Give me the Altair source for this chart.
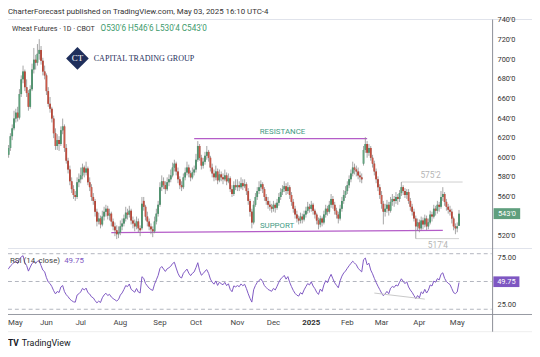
import altair as alt
import pandas as pd

# ---------------- data ----------------
MONTH_LABELS = ["May", "Jun", "Jul", "Aug", "Sep", "Oct", "Nov", "Dec", "2025", "Feb", "Mar", "Apr", "May"]
MONTH_INDEX = [0, 22, 41, 63, 85, 105, 128, 148, 169, 189, 208, 229, 250]

OPEN = [598,603,610,622,630,640,646,641,665,680,688,672,666,652,670,690,700,697,706,710,699,688,
        684,668,655,650,640,625,612,618,614,628,632,610,597,588,576,568,562,560,575,
        578,582,590,585,589,575,570,560,556,545,535,538,532,540,545,548,541,543,535,530,526,522,
        524,530,533,538,544,542,546,536,533,530,535,528,528,556,550,540,535,530,527,525,535,543,
        552,570,576,572,568,575,578,582,590,594,586,578,572,570,580,585,590,584,580,585,
        588,598,612,600,592,596,602,606,600,590,584,580,586,577,583,580,578,582,576,579,568,563,572,
        570,572,570,574,571,573,566,556,545,534,552,560,566,570,573,568,560,556,552,550,
        548,552,549,554,560,565,568,571,566,570,562,555,548,542,538,536,540,537,542,546,550,
        548,552,546,542,536,532,538,534,542,548,545,552,558,552,546,542,538,548,556,562,
        566,572,578,584,590,588,586,582,580,594,608,614,605,610,600,594,586,578,570,
        562,553,545,548,552,546,555,558,556,560,558,564,570,566,562,565,556,550,545,538,530,
        534,528,536,532,538,530,534,542,540,548,546,552,550,560,563,555,550,547,545,538,530,
        528,530.75]
HIGH = [606,613,625,634,648,650,652,670,684,694,690,680,669,674,696,712,705,716,721,714,702,694,
        686,672,662,652,643,630,624,622,632,640,634,614,600,592,580,572,566,580,584,
        590,594,592,596,591,580,573,564,558,548,544,541,546,550,552,551,548,545,538,534,531,530,
        536,538,542,550,548,551,548,540,537,540,538,531,560,560,552,545,538,533,530,540,548,556,
        575,582,580,576,580,583,588,595,598,596,590,581,576,584,590,596,593,587,590,592,
        604,617,614,603,600,606,612,608,602,594,588,592,589,588,586,584,588,585,584,581,572,576,578,
        578,576,580,578,578,575,569,558,548,556,564,570,576,577,575,570,563,560,556,553,
        556,554,558,564,569,572,576,574,575,572,565,558,551,546,541,544,543,546,550,555,553,
        556,554,548,544,539,541,540,546,552,551,556,563,561,555,549,545,552,560,567,571,
        576,582,588,596,594,592,590,586,584,612,621,617,614,612,603,597,589,581,573,
        566,556,553,557,555,560,563,561,565,563,567,575.25,572,569,568,568,559,553,548,541,538,
        537,540,539,542,541,538,546,545,552,551,556,555,566,570,565,558,553,551,548,540,533,
        534,546.75]
LOW = [596,600,607,618,628,636,637,639,662,676,668,662,648,650,668,686,690,694,700,695,684,680,
       664,652,646,636,620,608,608,607,612,624,606,594,584,572,564,558,556,558,570,
       574,578,580,582,572,566,556,552,540,530,532,528,530,536,540,537,536,530,526,520,517,518,
       521,526,530,535,537,539,532,528,525,527,524,520,526,546,536,530,526,522,519,523,532,540,
       550,566,568,563,566,571,575,580,586,582,574,568,566,568,577,582,580,576,578,582,
       585,596,597,588,589,593,598,596,586,580,576,577,573,575,576,573,576,572,574,565,560,561,567,
       566,566,568,567,569,562,552,540,528,532,550,557,563,566,564,556,552,548,546,544,
       545,544,547,551,557,562,565,562,563,558,551,544,538,534,532,533,533,535,539,543,544,
       545,542,538,532,527,529,530,532,539,541,543,549,548,542,538,533,536,545,553,559,
       563,569,575,581,583,581,578,575,574,592,605,600,602,597,590,582,574,566,558,
       548,532,540,544,541,544,551,550,553,552,555,561,562,559,558,553,546,541,535,517.5,526,
       524,526,527,529,526,527,532,535,538,541,543,545,548,556,551,546,543,541,533,526,522,
       524,530.5]
CLOSE = [603,610,622,630,640,646,641,665,680,688,672,666,652,670,690,700,697,706,710,699,688,684,
         668,655,650,640,625,612,618,614,628,632,610,597,588,576,568,562,560,575,578,
         582,590,585,589,575,570,560,556,545,535,538,532,540,545,548,541,543,535,530,526,522,524,
         530,533,538,544,542,546,536,533,530,535,528,526,553,550,540,535,530,527,525,535,543,552,
         570,576,572,568,575,578,582,590,594,586,578,572,570,580,585,590,584,580,585,588,
         598,612,600,592,596,602,606,600,590,584,580,586,577,583,580,578,582,576,579,568,563,572,570,
         572,570,574,571,573,566,556,545,534,552,560,566,570,573,568,560,556,552,550,548,
         552,549,554,560,565,568,571,566,570,562,555,548,542,538,536,540,537,542,546,550,548,
         552,546,542,536,532,538,534,542,548,545,552,558,552,546,542,538,548,556,562,566,
         572,578,584,590,588,586,582,580,578,608,614,605,610,600,594,586,578,570,562,
         553,545,548,552,546,555,558,556,560,558,564,570,566,562,565,556,550,545,538,530,534,
         528,536,532,538,530,534,542,540,548,546,552,550,560,563,555,550,547,545,538,530,528,
         530,543]

PRICE_TICKS = [520, 560, 580, 600, 620, 640, 660, 680, 700, 720, 740]
RSI_LEVELS = [80, 50, 20]
RSI_SEED_GAIN = 7.0
RSI_SEED_LOSS = 4.5
PREV_CLOSE = 598

# annotation levels
SUPPORT = {"i": [58], "i2": [242], "p": [523.7], "p2": [526.0]}
RESIST = {"i": [104], "i2": [200], "p": [619.5], "p2": [619.5]}
HLINES = {"i": [219, 227], "i2": [253, 251], "p": [575.25, 517.5]}
HLABELS = {"i": [235.2, 239.3], "p": [575.25, 517.5], "t": ["575'2", "517'4"], "dy": [-7, 7]}
RSI_DIV = {"i": [204, 232], "r": [37.5, 31.0]}

# ---------------- derived tables ----------------
n = len(CLOSE)
df = pd.DataFrame({"i": list(range(n)), "o": OPEN, "h": HIGH, "l": LOW, "c": CLOSE})
df["dir"] = ["up" if c >= o else "down" for o, c in zip(OPEN, CLOSE)]

ag, al, prev = RSI_SEED_GAIN, RSI_SEED_LOSS, PREV_CLOSE
rsi = []
for c in CLOSE:
    ch = c - prev
    ag = (ag * 13 + max(ch, 0)) / 14
    al = (al * 13 + max(-ch, 0)) / 14
    rsi.append(100 - 100 / (1 + ag / al))
    prev = c
df["rsi"] = rsi

FONT = "Roboto"
XS = alt.Scale(domain=[0, 251], range=[-1.2, 457.9])
PS = alt.Scale(domain=[510, 740], range=[238.95, 10.05])
RS = alt.Scale(domain=[15, 84], range=[307.9, 243.04])
ONE = pd.DataFrame({"k": [0]})

X = lambda f: alt.X(f, type="quantitative", scale=XS, axis=None)
YP = lambda f: alt.Y(f, type="quantitative", scale=PS, axis=None)
YR = lambda f: alt.Y(f, type="quantitative", scale=RS, axis=None)


def vrule(x, x2, y, y2, color, w=1):
    return alt.Chart(ONE).mark_rule(color=color, strokeWidth=w).encode(
        x=alt.value(x), x2=alt.value(x2), y=alt.value(y), y2=alt.value(y2))


def vtext(text, x, y, size=8, color="#333", align="left", font=FONT, **kw):
    return alt.Chart(ONE).mark_text(text=text, align=align, baseline="middle", fontSize=size,
                                    color=color, font=font, **kw).encode(x=alt.value(x), y=alt.value(y))


layers = []
# frame
layers += [
    vrule(0, 532, 9, 9, "#e0e3eb"),
    vrule(0, 532, 241.5, 241.5, "#e0e3eb"),
    vrule(0, 532, 308.5, 308.5, "#9598a1"),
    vrule(0, 532, 326, 326, "#eeeeee"),
    vrule(492, 492, 9, 326, "#8a8d95"),
]
# RSI dashed levels
lev = pd.DataFrame({"r": RSI_LEVELS})
layers.append(alt.Chart(lev).mark_rule(color="#b2b5be", strokeDash=[4, 3], strokeWidth=1).encode(
    y=YR("r"), x=alt.value(0), x2=alt.value(491)))

# support / resistance
for d in (SUPPORT, RESIST):
    layers.append(alt.Chart(pd.DataFrame(d)).mark_rule(color="#b45cc8", strokeWidth=1.3).encode(
        x=X("i"), x2="i2", y=YP("p"), y2="p2"))
hl = pd.DataFrame(HLINES)
layers.append(alt.Chart(hl).mark_rule(color="#cfcfcf", strokeWidth=1).encode(x=X("i"), x2="i2", y=YP("p")))
for t, ii, pp, dy in zip(HLABELS["t"], HLABELS["i"], HLABELS["p"], HLABELS["dy"]):
    layers.append(alt.Chart(pd.DataFrame({"i": [ii], "p": [pp]})).mark_text(
        text=t, dy=dy, fontSize=8.5, color="#b5b5b5", font=FONT).encode(x=X("i"), y=YP("p")))
layers.append(alt.Chart(pd.DataFrame({"i": [153], "p": [619.5]})).mark_text(
    text="RESISTANCE", dy=-6.5, fontSize=8, color="#3f9a84", font=FONT).encode(x=X("i"), y=YP("p")))
layers.append(alt.Chart(pd.DataFrame({"i": [150], "p": [524.9]})).mark_text(
    text="SUPPORT", dy=-5.5, fontSize=8, color="#3f9a84", font=FONT).encode(x=X("i"), y=YP("p")))

# candles
base = alt.Chart(df)
layers.append(base.mark_rule(color="#8e8e8e", strokeWidth=0.8).encode(x=X("i"), y=YP("l"), y2="h"))
layers.append(base.mark_rule(strokeWidth=1.7).encode(
    x=X("i"), y=YP("o"), y2="c",
    color=alt.Color("dir:N", scale=alt.Scale(domain=["up", "down"], range=["#1f6b45", "#8a1c10"]), legend=None)))
layers.append(base.mark_rule(strokeWidth=0.7).encode(
    x=X("i"), y=YP("o"), y2="c",
    color=alt.Color("dir:N", scale=alt.Scale(domain=["up", "down"], range=["#86c29c", "#f07a68"]), legend=None)))

# RSI
layers.append(base.mark_line(color="#7e57c2", strokeWidth=1).encode(x=X("i"), y=YR("rsi")))
layers.append(alt.Chart(pd.DataFrame(RSI_DIV)).mark_line(color="#c8c8c8", strokeWidth=1).encode(
    x=X("i"), y=YR("r")))

# price axis labels
pt = pd.DataFrame({"p": PRICE_TICKS, "t": [f"{v}'0" for v in PRICE_TICKS]})
layers.append(alt.Chart(pt).mark_text(align="left", fontSize=7.5, color="#333", font=FONT).encode(
    x=alt.value(497), y=YP("p"), text="t:N"))
BOX = "M-1,-0.41L1,-0.41L1,0.41L-1,0.41Z"
layers.append(alt.Chart(pd.DataFrame({"p": [543]})).mark_point(shape=BOX, size=729, filled=True, opacity=1,
                                                               color="#5f9f7e").encode(x=alt.value(506.5), y=YP("p")))
layers.append(alt.Chart(pd.DataFrame({"p": [543]})).mark_text(text="543'0", fontSize=7.5, color="white", font=FONT).encode(
    x=alt.value(506.5), y=YP("p")))
# RSI axis labels
rt = pd.DataFrame({"r": [75, 25], "t": ["75.00", "25.00"]})
layers.append(alt.Chart(rt).mark_text(align="left", fontSize=7.5, color="#333", font=FONT).encode(
    x=alt.value(497), y=YR("r"), text="t:N"))
layers.append(alt.Chart(pd.DataFrame({"r": [49.75]})).mark_point(shape=BOX, size=700, filled=True, opacity=1,
                                                                 color="#7e57c2").encode(x=alt.value(506), y=YR("r")))
layers.append(alt.Chart(pd.DataFrame({"r": [49.75]})).mark_text(text="49.75", fontSize=7.5, color="white", font=FONT).encode(
    x=alt.value(506), y=YR("r")))

# month labels (the first one, cut by the left edge in the source, is kept whole)
ml = pd.DataFrame({"i": MONTH_INDEX, "t": MONTH_LABELS})
layers.append(alt.Chart(ml.iloc[:1]).mark_text(fontSize=8, color="#444", font=FONT, align="left").encode(
    x=alt.value(0), y=alt.value(317), text="t:N"))
layers.append(alt.Chart(ml.iloc[1:][ml.t.iloc[1:] != "2025"]).mark_text(fontSize=8, color="#444", font=FONT).encode(
    x=X("i"), y=alt.value(317), text="t:N"))
layers.append(alt.Chart(ml[ml.t == "2025"]).mark_text(fontSize=8, color="#333", font=FONT, fontWeight="bold").encode(
    x=X("i"), y=alt.value(317), text="t:N"))

# texts
layers += [
    vtext("CharterForecast published on TradingView.com, May 03, 2025 16:10 UTC-4", 0, 1, size=8, color="#333"),
    vtext("Wheat Futures · 1D · CBOT", 4, 19, size=7.2, color="#333"),
    vtext("O530'6  H546'6  L530'4  C543'0", 94, 19, size=8.3, color="#3d9a6b"),
    vtext("RSI (14, close)", 2, 254, size=8, color="#444"),
    vtext("49.75", 57, 254, size=8, color="#7e57c2"),
    vtext("TV", 0, 338, size=8.5, color="#131722", fontWeight="bold"),
    vtext("TradingView", 14, 338, size=9, color="#131722"),
    vtext("CAPITAL TRADING GROUP", 87, 49, size=8.2, color="#1f2f5c", font="Liberation Serif"),
]
layers.append(alt.Chart(ONE).mark_point(shape="diamond", size=529, filled=True, opacity=1, color="#1f2f5c").encode(
    x=alt.value(70.5), y=alt.value(48.5)))
layers.append(alt.Chart(ONE).mark_text(text="CT", fontSize=9, color="white", font="Liberation Serif").encode(
    x=alt.value(70.5), y=alt.value(48.5)))

chart = alt.layer(*layers).resolve_scale(y="independent", color="independent").properties(
    width=532, height=349, autosize=alt.AutoSizeParams(type="none"), padding=0,
    background="white"
).configure_view(stroke=None)

chart.save("out.html", embed_options={"renderer": "svg", "actions": False})
